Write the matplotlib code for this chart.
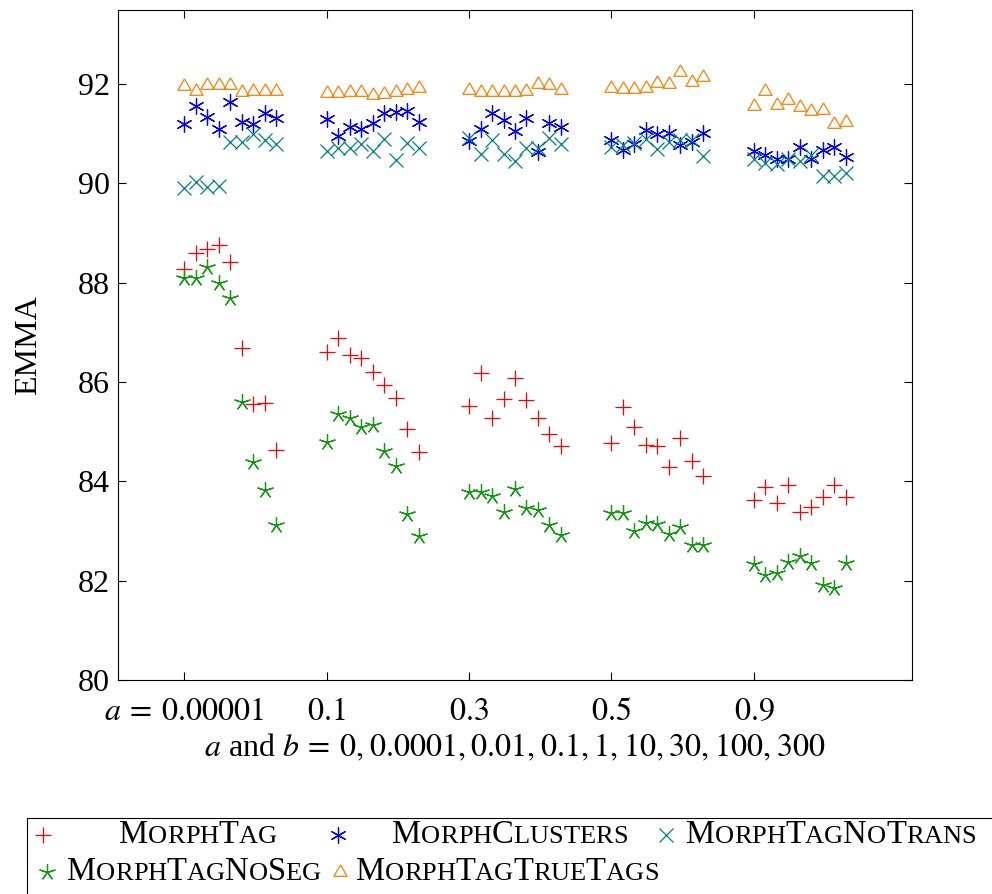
import numpy as np
import matplotlib.pyplot as plt
from matplotlib.lines import Line2D
from matplotlib.patches import Rectangle
from matplotlib.offsetbox import TextArea, HPacker, AnnotationBbox

plt.rcParams['font.family'] = ['Liberation Serif', 'DejaVu Serif']
plt.rcParams['mathtext.fontset'] = 'stix'

# groups of a, each with 9 values of b
a_labels = [r'$a\:=\:0.00001$', r'$0.1$', r'$0.3$', r'$0.5$', r'$0.9$']
b_values = [0, 0.0001, 0.01, 0.1, 1, 10, 30, 100, 300]

morph_tag = [88.27, 88.59, 88.67, 88.76, 88.42, 86.69, 85.55, 85.58, 84.63,
             86.60, 86.89, 86.54, 86.48, 86.21, 85.94, 85.67, 85.05, 84.60,
             85.52, 86.19, 85.27, 85.66, 86.09, 85.64, 85.27, 84.95, 84.71,
             84.77, 85.50, 85.09, 84.73, 84.72, 84.29, 84.87, 84.40, 84.11,
             83.62, 83.88, 83.56, 83.93, 83.38, 83.49, 83.69, 83.93, 83.68]

morph_clusters = [91.19, 91.56, 91.34, 91.10, 91.64, 91.23, 91.20, 91.41, 91.32,
                  91.29, 90.96, 91.14, 91.09, 91.21, 91.42, 91.43, 91.46, 91.24,
                  90.85, 91.10, 91.42, 91.27, 91.06, 91.32, 90.64, 91.21, 91.14,
                  90.87, 90.67, 90.79, 91.07, 90.99, 91.02, 90.77, 90.84, 91.02,
                  90.65, 90.58, 90.49, 90.49, 90.74, 90.49, 90.67, 90.74, 90.54]

no_trans = [89.90, 90.02, 89.92, 89.95, 90.84, 90.84, 90.99, 90.87, 90.79,
            90.66, 90.72, 90.72, 90.80, 90.66, 90.89, 90.47, 90.82, 90.72,
            90.92, 90.59, 90.87, 90.59, 90.44, 90.72, 90.72, 90.92, 90.79,
            90.74, 90.77, 90.82, 90.89, 90.69, 90.84, 90.87, 90.87, 90.56,
            90.49, 90.40, 90.38, 90.49, 90.44, 90.57, 90.15, 90.15, 90.20]

no_seg = [88.09, 88.09, 88.31, 88.00, 87.70, 85.60, 84.38, 83.83, 83.12,
          84.79, 85.35, 85.27, 85.10, 85.13, 84.62, 84.31, 83.34, 82.90,
          83.79, 83.79, 83.71, 83.38, 83.85, 83.47, 83.42, 83.12, 82.92,
          83.36, 83.36, 82.99, 83.17, 83.15, 82.94, 83.09, 82.72, 82.72,
          82.34, 82.11, 82.16, 82.38, 82.50, 82.36, 81.91, 81.85, 82.35]

true_tags = [91.96, 91.85, 91.97, 91.97, 91.97, 91.84, 91.85, 91.85, 91.85,
             91.81, 91.81, 91.84, 91.84, 91.78, 91.80, 91.84, 91.87, 91.92,
             91.88, 91.84, 91.84, 91.84, 91.84, 91.86, 92.00, 91.98, 91.87,
             91.92, 91.89, 91.89, 91.92, 92.03, 92.01, 92.25, 92.04, 92.15,
             91.55, 91.85, 91.58, 91.68, 91.53, 91.46, 91.48, 91.19, 91.23]

# x position: group index * 12.4 + b index
group_pos = np.arange(len(a_labels)) * 12.4
xs = np.concatenate([g + np.arange(len(b_values)) for g in group_pos])

tri = [(0, 1), (-0.866, -0.5), (0.866, -0.5), (0, 1)]
series = [
    ("MorphTag", morph_tag, dict(marker='+', color='#ff0000', ms=11.5)),
    ("MorphClusters", morph_clusters, dict(marker=(6, 2, 0), color='#0000ff', ms=11.5)),
    ("MorphTagNoTrans", no_trans, dict(marker='x', color='#008080', ms=9.5)),
    ("MorphTagNoSeg", no_seg, dict(marker=(5, 2, 0), color='#119911', ms=12)),
    ("MorphTagTrueTags", true_tags, dict(marker=tri, color='#ff8000', ms=11,
                                         mfc='none')),
]

fig = plt.figure(figsize=(9.92, 8.94), dpi=100)
ax = fig.add_axes([118 / 992, 1 - 680 / 894, 794 / 992, 670 / 894])

for name, vals, st in series:
    ax.plot(xs, vals, ls='none', mew=0.9, **st)

ax.set_xlim(-5.76, 63.36)
ax.set_ylim(80, 93.49)
ax.set_xticks(group_pos, a_labels)
ax.set_yticks(range(80, 93, 2))
ax.tick_params(direction='in', top=True, right=True, length=6, width=0.8,
               labelsize=23, pad=6)
ax.tick_params(axis='x', pad=13)
for s in ax.spines.values():
    s.set_linewidth(0.8)
sp = r',\hspace{0.04}'
ax.set_xlabel(r'$a$ and $b\:=\:0' + sp + '0.0001' + sp + '0.01' + sp + '0.1' + sp
              + '1' + sp + '10' + sp + '30' + sp + '100' + sp + '300$',
              fontsize=23, labelpad=4)
ax.set_ylabel('EMMA', fontsize=23, labelpad=25)

# legend box (pgfplots style, 3 columns, small caps labels)
fig.add_artist(Rectangle((27 / 992, -0.05), 1.0, 0.05 + 76 / 894,
                         transform=fig.transFigure, fill=False, lw=0.8,
                         ec='black', clip_on=False))


def small_caps(text, big=23.5, small=19):
    parts = []
    for ch in text:
        size = big if ch.isupper() else small
        parts.append(TextArea(ch.upper(), textprops=dict(fontsize=size)))
    return HPacker(children=parts, align='baseline', pad=0, sep=0)


leg_pos = [(43, 835, 198), (338, 835, 510), (666, 835, 831),
           (47, 872, 194), (340, 872, 507)]
for (name, vals, st), (mx, my, tx) in zip(series, leg_pos):
    fig.add_artist(Line2D([mx / 992], [1 - my / 894], transform=fig.transFigure,
                          ls='none', mew=0.9, **st))
    ab = AnnotationBbox(small_caps(name), (tx / 992, 1 - my / 894),
                        xycoords='figure fraction', frameon=False,
                        box_alignment=(0.5, 0.5), pad=0)
    fig.add_artist(ab)

fig.savefig('out.png', dpi=100)
